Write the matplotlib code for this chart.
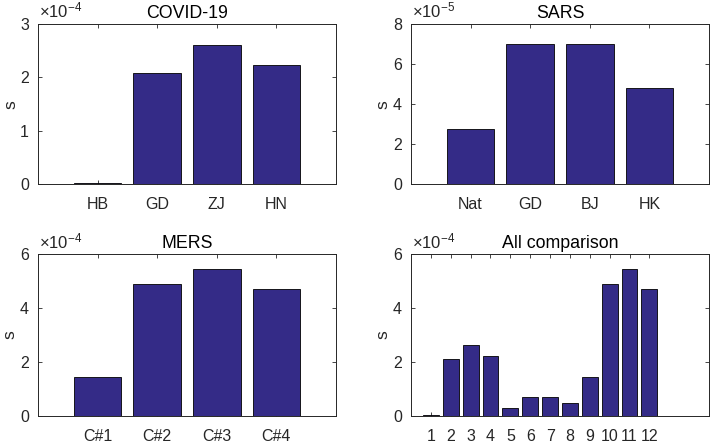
import matplotlib
matplotlib.use("Agg")
import matplotlib.pyplot as plt
from matplotlib.ticker import FuncFormatter, FixedLocator

plt.rcParams['font.family'] = ['Liberation Sans', 'DejaVu Sans']
plt.rcParams['mathtext.fontset'] = 'custom'
plt.rcParams['mathtext.rm'] = 'Liberation Sans'
plt.rcParams['mathtext.it'] = 'Liberation Sans'

# ---- data ----
covid_labels = ['HB', 'GD', 'ZJ', 'HN']
covid_vals = [0.03e-4, 2.09e-4, 2.61e-4, 2.23e-4]

sars_labels = ['Nat', 'GD', 'BJ', 'HK']
sars_vals = [2.74e-5, 7.02e-5, 7.00e-5, 4.81e-5]

mers_labels = ['C#1', 'C#2', 'C#3', 'C#4']
mers_vals = [1.44e-4, 4.88e-4, 5.47e-4, 4.72e-4]

all_labels = [str(i) for i in range(1, 13)]
all_vals = covid_vals + sars_vals + mers_vals

titles = ['COVID-19', 'SARS', 'MERS', 'All comparison']

BAR = '#342B87'
DARK = '#262626'

fig = plt.figure(figsize=(7.11, 4.43), dpi=100)

W = 298 / 711
H_top = 160.3 / 443
H_bot = 161.4 / 443
positions = [
    [38 / 711, 1 - 184.3 / 443, W, H_top],
    [411 / 711, 1 - 184.3 / 443, W, H_top],
    [38 / 711, 1 - 415.7 / 443, W, H_bot],
    [411 / 711, 1 - 415.7 / 443, W, H_bot],
]

panels = [
    (covid_labels, covid_vals, 1e-4, 3, [0, 1, 2, 3], '-4', (0, 5)),
    (sars_labels, sars_vals, 1e-5, 8, [0, 2, 4, 6, 8], '-5', (0, 5)),
    (mers_labels, mers_vals, 1e-4, 6, [0, 2, 4, 6], '-4', (0, 5)),
    (all_labels, all_vals, 1e-4, 6, [0, 2, 4, 6], '-4', (0, 15)),
]

for pos, (labels, vals, scale, ymax, yt, expo, xl), title in zip(positions, panels, titles):
    ax = fig.add_axes(pos)
    x = list(range(1, len(vals) + 1))
    ax.bar(x, vals, width=0.8, color=BAR, edgecolor='black', linewidth=0.6, zorder=2)
    ax.set_xlim(*xl)
    ax.set_ylim(0, ymax * scale)
    ax.xaxis.set_major_locator(FixedLocator(x))
    ax.set_xticklabels(labels)
    ax.yaxis.set_major_locator(FixedLocator([v * scale for v in yt]))
    ax.yaxis.set_major_formatter(FuncFormatter(lambda v, p, s=scale: f"{v / s:.0f}"))
    ax.tick_params(direction='in', length=3, width=0.6, colors=DARK,
                   labelsize=11.5, top=True, right=True)
    ax.tick_params(axis='x', pad=9.5)
    ax.tick_params(axis='y', pad=6.5)
    for sp in ax.spines.values():
        sp.set_color(DARK)
        sp.set_linewidth(0.7)
    ax.set_title(title, fontsize=12.8, color='black', pad=4.5)
    ax.set_ylabel('s', fontsize=12.5, color=DARK, labelpad=1.5)
    ax.text(0.003, 1.02, r'$\times10^{' + expo + '}$', transform=ax.transAxes,
            fontsize=12, color=DARK, ha='left', va='bottom')

fig.savefig('out.png', dpi=100)
